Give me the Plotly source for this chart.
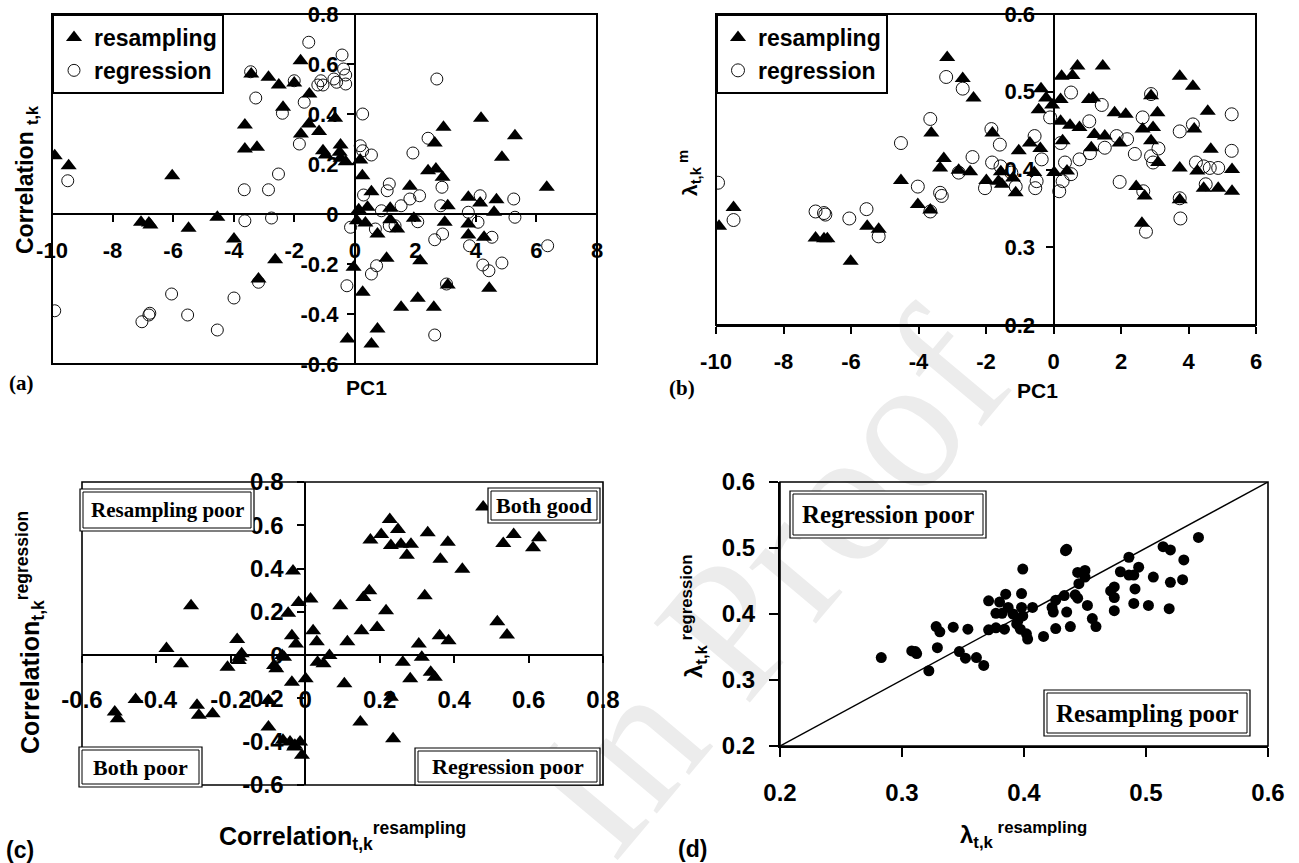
import plotly.graph_objects as go

W, H = 1299, 863
SANS = "Liberation Sans, Arial, sans-serif"
NARROW = "Liberation Sans Narrow, Arial Narrow, Liberation Sans, sans-serif"
SERIF = "Liberation Serif, Times New Roman, serif"

# ---------------- data ----------------
# (a) correlation vs PC1
a_res_x = [-9.91, -9.45, -6.03, -7.06, -6.80, -6.75, -5.49, -4.54, -3.99, -2.63,
           -3.18, -3.63, -3.63, -3.23, -3.42, -2.85, -2.51, -2.37, -2.00, -1.79,
           -1.50, -1.78, -1.52, -1.18, -0.65, -1.05, -0.96, -0.47, -0.50, -0.30,
           -0.47, 0.18, 0.25, 0.55, 0.42, 0.13, 0.07, 0.35, 0.75, 1.17,
           1.17, 1.40, 1.05, 1.82, 1.95, 2.16, 2.42, 2.68, 2.90, 2.64,
           2.93, 3.07, 2.97, 3.07, 2.61, 2.08, 1.53, 0.26, 0.75, 0.55,
           -0.24, -0.04, 3.75, 3.75, 3.75, 4.14, 4.17, 4.27, 4.60, 4.68,
           4.44, 4.86, 5.29, 6.34]
a_res_y = [0.233, 0.193, 0.153, -0.033, -0.036, -0.044, -0.057, -0.013, -0.100, -0.183,
           -0.260, 0.356, 0.260, 0.267, 0.560, 0.547, 0.516, 0.427, 0.524, 0.613,
           0.480, 0.320, 0.360, 0.330, 0.383, 0.253, 0.236, 0.276, 0.247, 0.209,
           0.223, 0.216, 0.153, 0.089, 0.027, 0.017, -0.027, -0.036, -0.080, 0.023,
           -0.023, -0.060, -0.177, 0.111, -0.017, -0.187, 0.173, 0.180, 0.147, 0.284,
           0.347, 0.033, -0.033, -0.284, -0.373, -0.337, -0.373, -0.313, -0.460, -0.520,
           -0.500, -0.213, 0.067, -0.040, -0.084, 0.044, 0.383, -0.093, 0.007, 0.057,
           -0.297, 0.227, 0.313, 0.107]
a_reg_x = [-9.91, -9.48, -7.03, -6.77, -6.80, -6.05, -5.52, -4.54, -3.99, -3.63,
           -3.65, -2.85, -2.52, -2.75, -3.18, -3.27, -3.44, -5.20, -2.39, -2.00,
           -1.52, -1.67, -1.83, -1.22, -1.05, -1.12, -0.69, -0.60, -0.42, -0.37,
           -0.30, -0.30, 0.26, 0.18, 0.26, 0.55, 0.29, 0.88, 1.14, 1.07,
           1.53, 1.82, 2.14, 1.92, 2.42, 2.71, 2.88, 2.84, 2.08, 2.64,
           2.90, 3.03, 2.64, 3.75, 4.14, 4.07, 3.79, 4.53, 4.23, 4.43,
           4.86, 5.25, 5.29, 6.37, 0.55, 0.72, -0.26, -0.14, 0.68, 1.14,
           1.33]
a_reg_y = [-0.387, 0.133, -0.431, -0.397, -0.404, -0.320, -0.404, -0.464, -0.336, -0.027,
           0.097, 0.097, 0.160, -0.016, -0.273, 0.464, 0.569, 0.540, 0.403, 0.533,
           0.687, 0.447, 0.280, 0.516, 0.516, 0.533, 0.540, 0.527, 0.636, 0.580,
           0.520, 0.556, 0.400, 0.273, 0.253, 0.236, 0.076, 0.013, 0.120, 0.093,
           0.033, 0.060, 0.073, 0.244, 0.303, 0.540, 0.107, 0.033, -0.031, -0.103,
           -0.080, -0.280, -0.484, 0.007, 0.073, -0.033, -0.127, -0.093, -0.204, -0.227,
           -0.196, 0.060, -0.013, -0.127, -0.240, -0.207, -0.287, -0.053, -0.060, -0.047,
           -0.047]

# (b) lambda vs PC1
b_res_x = [-9.91, -9.48, -7.05, -6.80, -6.70, -6.01, -5.52, -5.18, -4.52, -4.02,
           -3.65, -3.62, -3.25, -3.36, -3.15, -2.69, -2.37, -2.81, -2.47, -1.99,
           -1.81, -1.63, -1.56, -1.53, -1.20, -1.12, -1.03, -0.70, -0.57, -0.39,
           -0.37, -0.44, -0.22, -0.04, 0.02, 0.21, 0.24, 0.21, 0.27, 0.40,
           0.49, 0.56, 0.71, 0.77, 1.05, 1.17, 1.21, 1.12, 1.52, 1.46,
           1.81, 2.14, 1.96, 2.45, 2.70, 2.62, 2.64, 2.89, 2.95, 2.89,
           3.08, 3.10, 3.74, 3.74, 3.74, 4.13, 4.17, 4.26, 4.45, 4.57,
           4.66, 4.88, 5.29, 5.29]
b_res_y = [0.327, 0.351, 0.312, 0.311, 0.311, 0.282, 0.327, 0.323, 0.386, 0.355,
           0.348, 0.447, 0.414, 0.402, 0.544, 0.517, 0.492, 0.399, 0.397, 0.386,
           0.447, 0.385, 0.397, 0.381, 0.389, 0.370, 0.424, 0.434, 0.396, 0.427,
           0.504, 0.477, 0.492, 0.483, 0.396, 0.490, 0.520, 0.462, 0.437, 0.398,
           0.457, 0.521, 0.533, 0.454, 0.490, 0.492, 0.445, 0.428, 0.443, 0.533,
           0.473, 0.471, 0.434, 0.378, 0.366, 0.331, 0.452, 0.495, 0.454, 0.437,
           0.473, 0.409, 0.520, 0.402, 0.361, 0.507, 0.452, 0.398, 0.376, 0.475,
           0.426, 0.376, 0.400, 0.372]
b_reg_x = [-9.94, -9.48, -7.05, -6.80, -6.76, -6.05, -5.54, -5.18, -4.52, -4.02,
           -3.65, -3.36, -3.31, -3.65, -3.18, -2.69, -2.40, -2.81, -1.84, -1.82,
           -1.59, -1.57, -2.03, -1.25, -1.12, -0.56, -0.54, -0.50, -0.35, -0.10,
           0.17, 0.27, 0.34, 0.52, 0.21, 0.52, 0.77, 1.06, 1.08, 1.43,
           1.52, 1.87, 2.18, 1.96, 2.41, 2.64, 2.66, 2.89, 2.89, 2.95,
           3.11, 2.74, 3.74, 3.74, 3.76, 4.13, 4.22, 4.45, 4.51, 4.63,
           4.88, 5.28, 5.28]
b_reg_y = [0.383, 0.335, 0.346, 0.344, 0.342, 0.337, 0.349, 0.314, 0.434, 0.378,
           0.465, 0.370, 0.366, 0.346, 0.519, 0.504, 0.416, 0.396, 0.452, 0.409,
           0.432, 0.404, 0.376, 0.396, 0.378, 0.443, 0.376, 0.385, 0.413, 0.467,
           0.372, 0.385, 0.409, 0.394, 0.434, 0.499, 0.413, 0.462, 0.421, 0.483,
           0.428, 0.443, 0.439, 0.384, 0.420, 0.467, 0.372, 0.497, 0.417, 0.409,
           0.427, 0.320, 0.449, 0.363, 0.337, 0.458, 0.409, 0.404, 0.381, 0.402,
           0.402, 0.471, 0.424]

# (c) regression correlation vs resampling correlation
c_x = [-0.512, -0.504, -0.456, -0.373, -0.334, -0.307, -0.291, -0.286, -0.249, -0.209,
       -0.183, -0.177, -0.171, -0.179, -0.099, -0.099, -0.084, -0.078, -0.062, -0.057,
       -0.046, -0.036, -0.033, -0.025, -0.036, -0.060, -0.041, -0.028, -0.014, -0.009,
       -0.030, -0.018, 0.001, 0.014, 0.021, 0.031, 0.033, 0.049, 0.065, 0.094,
       0.105, 0.113, 0.148, 0.151, 0.156, 0.172, 0.175, 0.193, 0.204, 0.217,
       0.227, 0.230, 0.230, 0.236, 0.249, 0.257, 0.262, 0.273, 0.284, 0.282,
       0.305, 0.313, 0.321, 0.329, 0.337, 0.348, 0.363, 0.361, 0.383, 0.385,
       0.422, 0.478, 0.516, 0.532, 0.542, 0.560, 0.612, 0.628]
c_y = [-0.263, -0.294, -0.205, 0.031, -0.040, 0.228, -0.232, -0.278, -0.271, -0.056,
       0.072, -0.010, 0.006, -0.025, -0.209, -0.332, -0.048, -0.063, -0.002, -0.010,
       0.194, 0.090, 0.389, 0.052, -0.125, -0.393, -0.401, -0.416, -0.401, -0.462,
       -0.424, 0.243, -0.109, 0.259, 0.113, 0.062, -0.033, -0.040, -0.002, 0.228,
       -0.132, 0.062, -0.309, 0.113, 0.266, 0.297, 0.532, 0.128, 0.558, 0.205,
       0.627, 0.507, -0.194, -0.386, 0.581, 0.512, -0.033, 0.461, 0.512, -0.109,
       0.052, -0.010, 0.274, 0.565, -0.079, -0.102, 0.443, 0.090, 0.522, 0.067,
       0.397, 0.685, 0.154, 0.516, 0.093, 0.558, 0.496, 0.542]

# (d) regression lambda vs resampling lambda
d_x = [0.283, 0.308, 0.311, 0.312, 0.322, 0.328, 0.331, 0.329, 0.342, 0.347,
       0.352, 0.354, 0.361, 0.367, 0.371, 0.371, 0.377, 0.380, 0.377, 0.382,
       0.385, 0.384, 0.387, 0.391, 0.394, 0.395, 0.397, 0.398, 0.398, 0.399,
       0.399, 0.402, 0.403, 0.407, 0.416, 0.423, 0.424, 0.426, 0.426, 0.434,
       0.433, 0.435, 0.438, 0.442, 0.444, 0.445, 0.444, 0.450, 0.450, 0.452,
       0.456, 0.459, 0.471, 0.474, 0.474, 0.474, 0.479, 0.486, 0.486, 0.490,
       0.491, 0.490, 0.494, 0.502, 0.506, 0.514, 0.520, 0.520, 0.519, 0.531,
       0.530, 0.543, 0.435]
d_y = [0.334, 0.344, 0.343, 0.340, 0.314, 0.381, 0.373, 0.349, 0.380, 0.343,
       0.333, 0.377, 0.334, 0.322, 0.420, 0.376, 0.379, 0.418, 0.401, 0.401,
       0.430, 0.377, 0.410, 0.400, 0.385, 0.390, 0.377, 0.431, 0.410, 0.397,
       0.468, 0.370, 0.362, 0.410, 0.366, 0.410, 0.403, 0.378, 0.421, 0.496,
       0.428, 0.403, 0.381, 0.429, 0.424, 0.446, 0.463, 0.466, 0.456, 0.413,
       0.393, 0.381, 0.435, 0.441, 0.425, 0.405, 0.464, 0.486, 0.459, 0.459,
       0.438, 0.416, 0.471, 0.413, 0.456, 0.502, 0.497, 0.448, 0.408, 0.482,
       0.452, 0.516, 0.498]
d_diag = [0.2, 0.6]

# axis ranges and tick labels
a_xrange, a_yrange = [-10, 8], [-0.6, 0.8]
a_xticks = [-10, -8, -6, -4, -2, 0, 2, 4, 6, 8]
a_yticks = [-0.6, -0.4, -0.2, 0, 0.2, 0.4, 0.6, 0.8]
b_xrange, b_yrange = [-10, 6], [0.2, 0.6]
b_xticks = [-10, -8, -6, -4, -2, 0, 2, 4, 6]
b_yticks = [0.2, 0.3, 0.4, 0.5, 0.6]
c_xrange, c_yrange = [-0.6, 0.8], [-0.6, 0.8]
c_xticks = [-0.6, -0.4, -0.2, 0, 0.2, 0.4, 0.6, 0.8]
c_yticks = [-0.6, -0.4, -0.2, 0, 0.2, 0.4, 0.6, 0.8]
d_xrange, d_yrange = [0.2, 0.6], [0.2, 0.6]
d_xticks = [0.2, 0.3, 0.4, 0.5, 0.6]
d_yticks = [0.2, 0.3, 0.4, 0.5, 0.6]


def labels(vals):
    return [f"<b>{v:g}</b>" for v in vals]


# ---------------- layout helpers (pixel -> paper) ----------------
def px(p):
    return p / W


def py(p):
    return 1 - p / H


def cross(dom, rng, v=0.0):
    return dom[0] + (v - rng[0]) / (rng[1] - rng[0]) * (dom[1] - dom[0])


# plot boxes in pixels: left, top, right, bottom
BOX = {
    "a": (52, 14, 597, 364),
    "b": (716, 14, 1256, 325),
    "c": (82, 482, 603, 785),
    "d": (780, 482, 1268, 746),
}
DOM = {k: ([px(v[0]), px(v[2])], [py(v[3]), py(v[1])]) for k, v in BOX.items()}

fig = go.Figure()

tri = dict(symbol="triangle-up", size=14, color="black", line=dict(width=0))
ring = dict(symbol="circle-open", size=12, color="#111", line=dict(width=1))

# (a)
fig.add_trace(go.Scatter(x=a_reg_x, y=a_reg_y, mode="markers", name="regression",
                         marker=ring, xaxis="x", yaxis="y", legend="legend", legendrank=2))
fig.add_trace(go.Scatter(x=a_res_x, y=a_res_y, mode="markers", name="resampling",
                         marker=tri, xaxis="x", yaxis="y", legend="legend", legendrank=1))
# (b)
fig.add_trace(go.Scatter(x=b_reg_x, y=b_reg_y, mode="markers", name="regression",
                         marker=dict(ring, size=13), xaxis="x2", yaxis="y2",
                         legend="legend2", legendrank=2))
fig.add_trace(go.Scatter(x=b_res_x, y=b_res_y, mode="markers", name="resampling",
                         marker=tri, xaxis="x2", yaxis="y2", legend="legend2", legendrank=1))
# (c)
fig.add_trace(go.Scatter(x=c_x, y=c_y, mode="markers", marker=tri, showlegend=False,
                         xaxis="x3", yaxis="y3"))
# (d)
fig.add_trace(go.Scatter(x=d_diag, y=d_diag, mode="lines", line=dict(color="black", width=1.5),
                         showlegend=False, xaxis="x4", yaxis="y4"))
fig.add_trace(go.Scatter(x=d_x, y=d_y, mode="markers", showlegend=False,
                         marker=dict(symbol="circle", size=11, color="black"),
                         xaxis="x4", yaxis="y4"))


def axis(dom, rng, ticks, size, standoff, ticklen=7, family=SANS, **kw):
    return dict(domain=dom, range=rng, tickvals=ticks, ticktext=labels(ticks),
                automargin=False, showline=True, linecolor="black", linewidth=2,
                ticks="outside", ticklen=ticklen, tickwidth=2, tickcolor="black",
                showgrid=False, zeroline=False, ticklabelstandoff=standoff,
                tickfont=dict(family=family, size=size, color="black"), **kw)


ax_a, ay_a = DOM["a"]
ax_b, ay_b = DOM["b"]
ax_c, ay_c = DOM["c"]
ax_d, ay_d = DOM["d"]

legend_common = dict(xanchor="left", yanchor="top", bgcolor="white",
                     bordercolor="black", borderwidth=2, tracegroupgap=0)

layout = dict(
    template="none",
    width=W, height=H, margin=dict(l=0, r=0, t=0, b=0, autoexpand=False),
    paper_bgcolor="white", plot_bgcolor="rgba(0,0,0,0)",
    font=dict(family=SANS, color="black"),
    xaxis=axis(ax_a, a_xrange, a_xticks, 22, 10, family=NARROW, anchor="free",
               position=cross(ay_a, a_yrange)),
    yaxis=axis(ay_a, a_yrange, a_yticks, 22, 4, family=NARROW, anchor="free",
               position=cross(ax_a, a_xrange)),
    xaxis2=axis(ax_b, b_xrange, b_xticks, 22, 9, family=NARROW, anchor="y2"),
    yaxis2=axis(ay_b, b_yrange, b_yticks, 22, 6, family=NARROW, anchor="free",
                position=cross(ax_b, b_xrange)),
    xaxis3=axis(ax_c, c_xrange, c_xticks, 24, 16, anchor="free",
                position=cross(ay_c, c_yrange)),
    yaxis3=axis(ay_c, c_yrange, c_yticks, 24, 9, anchor="free",
                position=cross(ax_c, c_xrange)),
    xaxis4=axis(ax_d, d_xrange, d_xticks, 24, 15, ticklen=9, anchor="y4"),
    yaxis4=axis(ay_d, d_yrange, d_yticks, 24, 9, ticklen=9, anchor="x4"),
    legend=dict(legend_common, x=px(52), y=py(14),
                font=dict(family=SANS, size=23, color="black", weight="bold")),
    legend2=dict(legend_common, x=px(716), y=py(14),
                 font=dict(family=SANS, size=23, color="black", weight="bold")),
)
fig.update_layout(**layout)

shapes = []
# faint diagonal watermark behind everything
shapes.append(dict(type="rect", xref="paper", yref="paper", layer="below",
                   x0=px(745), x1=px(755), y0=py(575), y1=py(565),
                   line=dict(width=0),
                   label=dict(text="In Proof", textangle=-50, textposition="middle center",
                              font=dict(family=SERIF, size=190, color="#ececec"))))
# frames around each plot
for k, (l, t, r, b) in BOX.items():
    shapes.append(dict(type="rect", xref="paper", yref="paper",
                       x0=px(l), x1=px(r), y0=py(b), y1=py(t),
                       line=dict(color="black", width=2 if k in "ab" else 1.6)))

# quadrant / region labels with double borders
regions = [
    ("Resampling poor", 80, 489, 254, 531, 21),
    ("Both good", 488, 488, 600, 523, 22),
    ("Both poor", 79, 747, 202, 787, 22),
    ("Regression poor", 415, 748, 600, 785, 22),
    ("Regression poor", 790, 491, 986, 538, 25),
    ("Resampling poor", 1044, 690, 1250, 736, 25),
]
annotations = []
for text, l, t, r, b, fs in regions:
    shapes.append(dict(type="rect", xref="paper", yref="paper",
                       x0=px(l), x1=px(r), y0=py(b), y1=py(t),
                       fillcolor="white", line=dict(color="black", width=1.2)))
    shapes.append(dict(type="rect", xref="paper", yref="paper",
                       x0=px(l + 3), x1=px(r - 3), y0=py(b - 3), y1=py(t + 3),
                       line=dict(color="black", width=1)))
    annotations.append(dict(text=f"<b>{text}</b>", xref="paper", yref="paper",
                            x=px((l + r) / 2), y=py((t + b) / 2), showarrow=False,
                            xanchor="center", yanchor="middle",
                            font=dict(family=SERIF, size=fs, color="black")))


def note(text, x, y, size, family=SANS, angle=0):
    annotations.append(dict(text=f"<b>{text}</b>", xref="paper", yref="paper",
                            x=px(x), y=py(y), showarrow=False,
                            xanchor="center", yanchor="middle", textangle=angle,
                            font=dict(family=family, size=size, color="black")))


# axis titles and panel letters
note("Correlation <sub>t,k</sub>", 26, 180, 23, angle=-90)
note("PC1", 367, 387, 21, family=NARROW)
note("(a)", 22, 383, 21, family=SERIF)
note("λ<sub>t,k</sub><sup> m</sup>", 690, 173, 21, angle=-90)
note("PC1", 1037, 390, 21, family=NARROW)
note("(b)", 682, 388, 21, family=SERIF)
note("Correlation<sub>t,k</sub><sup>resampling</sup>", 342, 836, 25)
note("Correlation<sub>t,k</sub><sup>regression</sup>", 30, 633, 25, angle=-90)
note("(c)", 20, 850, 23)
note("λ<sub>t,k</sub><sup> resampling</sup>", 1024, 835, 24)
note("λ<sub>t,k</sub><sup> regression</sup>", 694, 617, 24, angle=-90)
note("(d)", 692, 849, 23)

fig.update_layout(shapes=shapes, annotations=annotations)
fig.write_html("out.html")
